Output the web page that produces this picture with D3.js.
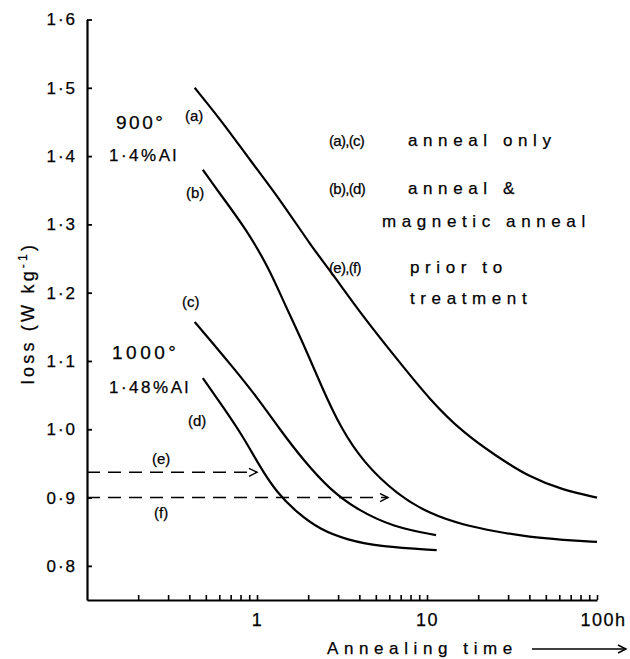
<!DOCTYPE html>
<html>
<head>
<meta charset="utf-8">
<script src="https://cdn.jsdelivr.net/npm/d3@7"></script>
<style>
  body { margin: 0; background: #fff; }
  svg { display: block; font-family: "Liberation Sans", Arial, sans-serif; }
  svg text { stroke: #000; stroke-width: 0.25; }
  .curve { fill: none; stroke: #000; stroke-width: 2.2; }
  .dash { fill: none; stroke: #000; stroke-width: 1.6; stroke-dasharray: 13,8; }
  .note { font-size: 17px; letter-spacing: 5.6px; }
  .tag { font-size: 15px; }
</style>
</head>
<body>
<div id="chart"></div>
<script>
// annealing time (h) vs loss (W/kg)
var timeA = [0.43, 0.63, 0.91, 1.37, 2.1, 2.7, 4.2, 6.7, 10.4, 16.3, 25.8, 40, 63, 100];
var lossA = [1.500, 1.449, 1.394, 1.336, 1.267, 1.232, 1.165, 1.102, 1.043, 0.995, 0.960, 0.930, 0.911, 0.900];
var timeB = [0.48, 0.6, 0.87, 1.19, 1.42, 1.87, 2.44, 3.08, 4.2, 6.7, 10.4, 16.3, 25.8, 40, 63, 100];
var lossB = [1.380, 1.346, 1.292, 1.233, 1.189, 1.126, 1.058, 1.004, 0.952, 0.904, 0.876, 0.860, 0.850, 0.842, 0.838, 0.835];
var timeC = [0.43, 0.55, 0.72, 1.0, 1.37, 1.87, 2.7, 3.9, 6.3, 11.3];
var lossC = [1.157, 1.126, 1.091, 1.047, 0.999, 0.955, 0.911, 0.882, 0.857, 0.845];
var timeD = [0.48, 0.63, 0.83, 1.04, 1.31, 1.72, 2.35, 3.4, 5.3, 11.4];
var lossD = [1.075, 1.033, 0.989, 0.945, 0.907, 0.878, 0.853, 0.838, 0.828, 0.823];

// prior to treatment levels (e), (f) and where their arrows stop
var priorLoss = [0.937, 0.900];
var priorEnd = [1.0, 5.9];
var priorTags = ["(e)", "(f)"];

var yTicks = [0.8, 0.9, 1.0, 1.1, 1.2, 1.3, 1.4, 1.5, 1.6];
var xTicks = [0.2, 0.3, 0.4, 0.5, 0.6, 0.7, 0.8, 0.9, 1, 2, 3, 4, 5, 6, 7, 8, 9, 10,
              20, 30, 40, 50, 60, 70, 80, 90, 100];
var xLabels = {1: "1", 10: "10", 100: "100h"};

var width = 630, height = 659;

var svg = d3.select("#chart").append("svg")
  .attr("width", width)
  .attr("height", height);

var defs = svg.append("defs");
defs.append("marker")
  .attr("id", "arr")
  .attr("markerUnits", "userSpaceOnUse")
  .attr("markerWidth", 12).attr("markerHeight", 12)
  .attr("refX", 9).attr("refY", 5)
  .attr("orient", "auto")
  .append("path")
  .attr("d", "M1,1 L9,5 L1,9")
  .attr("fill", "none")
  .attr("stroke", "#000")
  .attr("stroke-width", 1.4);

var x = d3.scaleLog().domain([0.1, 100]).range([87, 597]);
var y = d3.scaleLinear().domain([0.75, 1.6]).range([600, 19.5]);

// axes
var gy = svg.append("g")
  .attr("transform", "translate(" + x.range()[0] + ",0)")
  .call(d3.axisLeft(y).tickValues(yTicks).tickSize(-5).tickSizeOuter(0).tickPadding(10)
    .tickFormat(function (d) { return d.toFixed(1).replace(".", "·"); }));
gy.select(".domain").attr("stroke-width", 2.2);
gy.selectAll(".tick line").attr("stroke-width", 1.8);
gy.selectAll(".tick text")
  .attr("font-size", 17)
  .attr("font-family", "Liberation Sans, Arial, sans-serif")
  .attr("letter-spacing", 2);

var gx = svg.append("g")
  .attr("transform", "translate(0," + y.range()[0] + ")")
  .call(d3.axisBottom(x).tickValues(xTicks).tickSize(-5).tickSizeOuter(0).tickPadding(13)
    .tickFormat(function (d) { return xLabels[d] || ""; }));
gx.select(".domain").attr("stroke-width", 2.2);
gx.selectAll(".tick line").attr("stroke-width", 1.6);
gx.selectAll(".tick text")
  .attr("font-size", 18)
  .attr("font-family", "Liberation Sans, Arial, sans-serif")
  .attr("letter-spacing", 1.5)
  .attr("dx", function (d) { return d == 100 ? 6 : 0; });

// axis titles
svg.append("text")
  .attr("transform", "translate(34,313) rotate(-90)")
  .attr("text-anchor", "middle")
  .attr("font-size", 18)
  .attr("letter-spacing", 3.2)
  .text("loss (W  kg")
  .append("tspan")
  .attr("dy", -7)
  .attr("font-size", 12)
  .text("-1")
  .append("tspan")
  .attr("dy", 7)
  .attr("font-size", 18)
  .text(")");

svg.append("text")
  .attr("class", "note")
  .attr("x", 327)
  .attr("y", 654)
  .text("Annealing time");
svg.append("line")
  .attr("x1", 532).attr("y1", 649)
  .attr("x2", 626).attr("y2", 649)
  .attr("stroke", "#000")
  .attr("stroke-width", 1.6)
  .attr("marker-end", "url(#arr)");

// curves
var line = d3.line()
  .x(function (d) { return x(d[0]); })
  .y(function (d) { return y(d[1]); })
  .curve(d3.curveBasis);

[[timeA, lossA], [timeB, lossB], [timeC, lossC], [timeD, lossD]].forEach(function (c) {
  svg.append("path")
    .attr("class", "curve")
    .attr("d", line(d3.zip(c[0], c[1])));
});

// dashed levels with arrows
priorLoss.forEach(function (v, i) {
  svg.append("line")
    .attr("class", "dash")
    .attr("x1", x.range()[0]).attr("y1", y(v))
    .attr("x2", x(priorEnd[i])).attr("y2", y(v))
    .attr("marker-end", "url(#arr)");
});

// curve tags
var tags = [["(a)", 185, 121], ["(b)", 186, 198], ["(c)", 182, 307], ["(d)", 188, 426],
            [priorTags[0], 152, 464], [priorTags[1], 154, 518]];
tags.forEach(function (t) {
  svg.append("text").attr("class", "tag").attr("x", t[1]).attr("y", t[2]).text(t[0]);
});

// sample descriptions
svg.append("text").attr("x", 116).attr("y", 129)
  .attr("font-size", 19).attr("letter-spacing", 2.5).text("900°");
svg.append("text").attr("x", 109).attr("y", 161)
  .attr("font-size", 17).attr("letter-spacing", 2.5).text("1·4%Al");
svg.append("text").attr("x", 112).attr("y", 359)
  .attr("font-size", 19).attr("letter-spacing", 3.5).text("1000°");
svg.append("text").attr("x", 109).attr("y", 393)
  .attr("font-size", 17).attr("letter-spacing", 2.5).text("1·48%Al");

// legend
var legend = [["(a),(c)", 146, "anneal only", 408],
              ["(b),(d)", 194, "anneal &", 408],
              ["", 227, "magnetic anneal", 382],
              ["(e),(f)", 273, "prior to", 410],
              ["", 304, "treatment", 410]];
legend.forEach(function (r) {
  if (r[0]) svg.append("text").attr("class", "tag").attr("x", 329).attr("y", r[1])
    .attr("font-size", 16).attr("letter-spacing", -0.7).text(r[0]);
  svg.append("text").attr("class", "note").attr("x", r[3]).attr("y", r[1]).text(r[2]);
});
</script>
</body>
</html>
